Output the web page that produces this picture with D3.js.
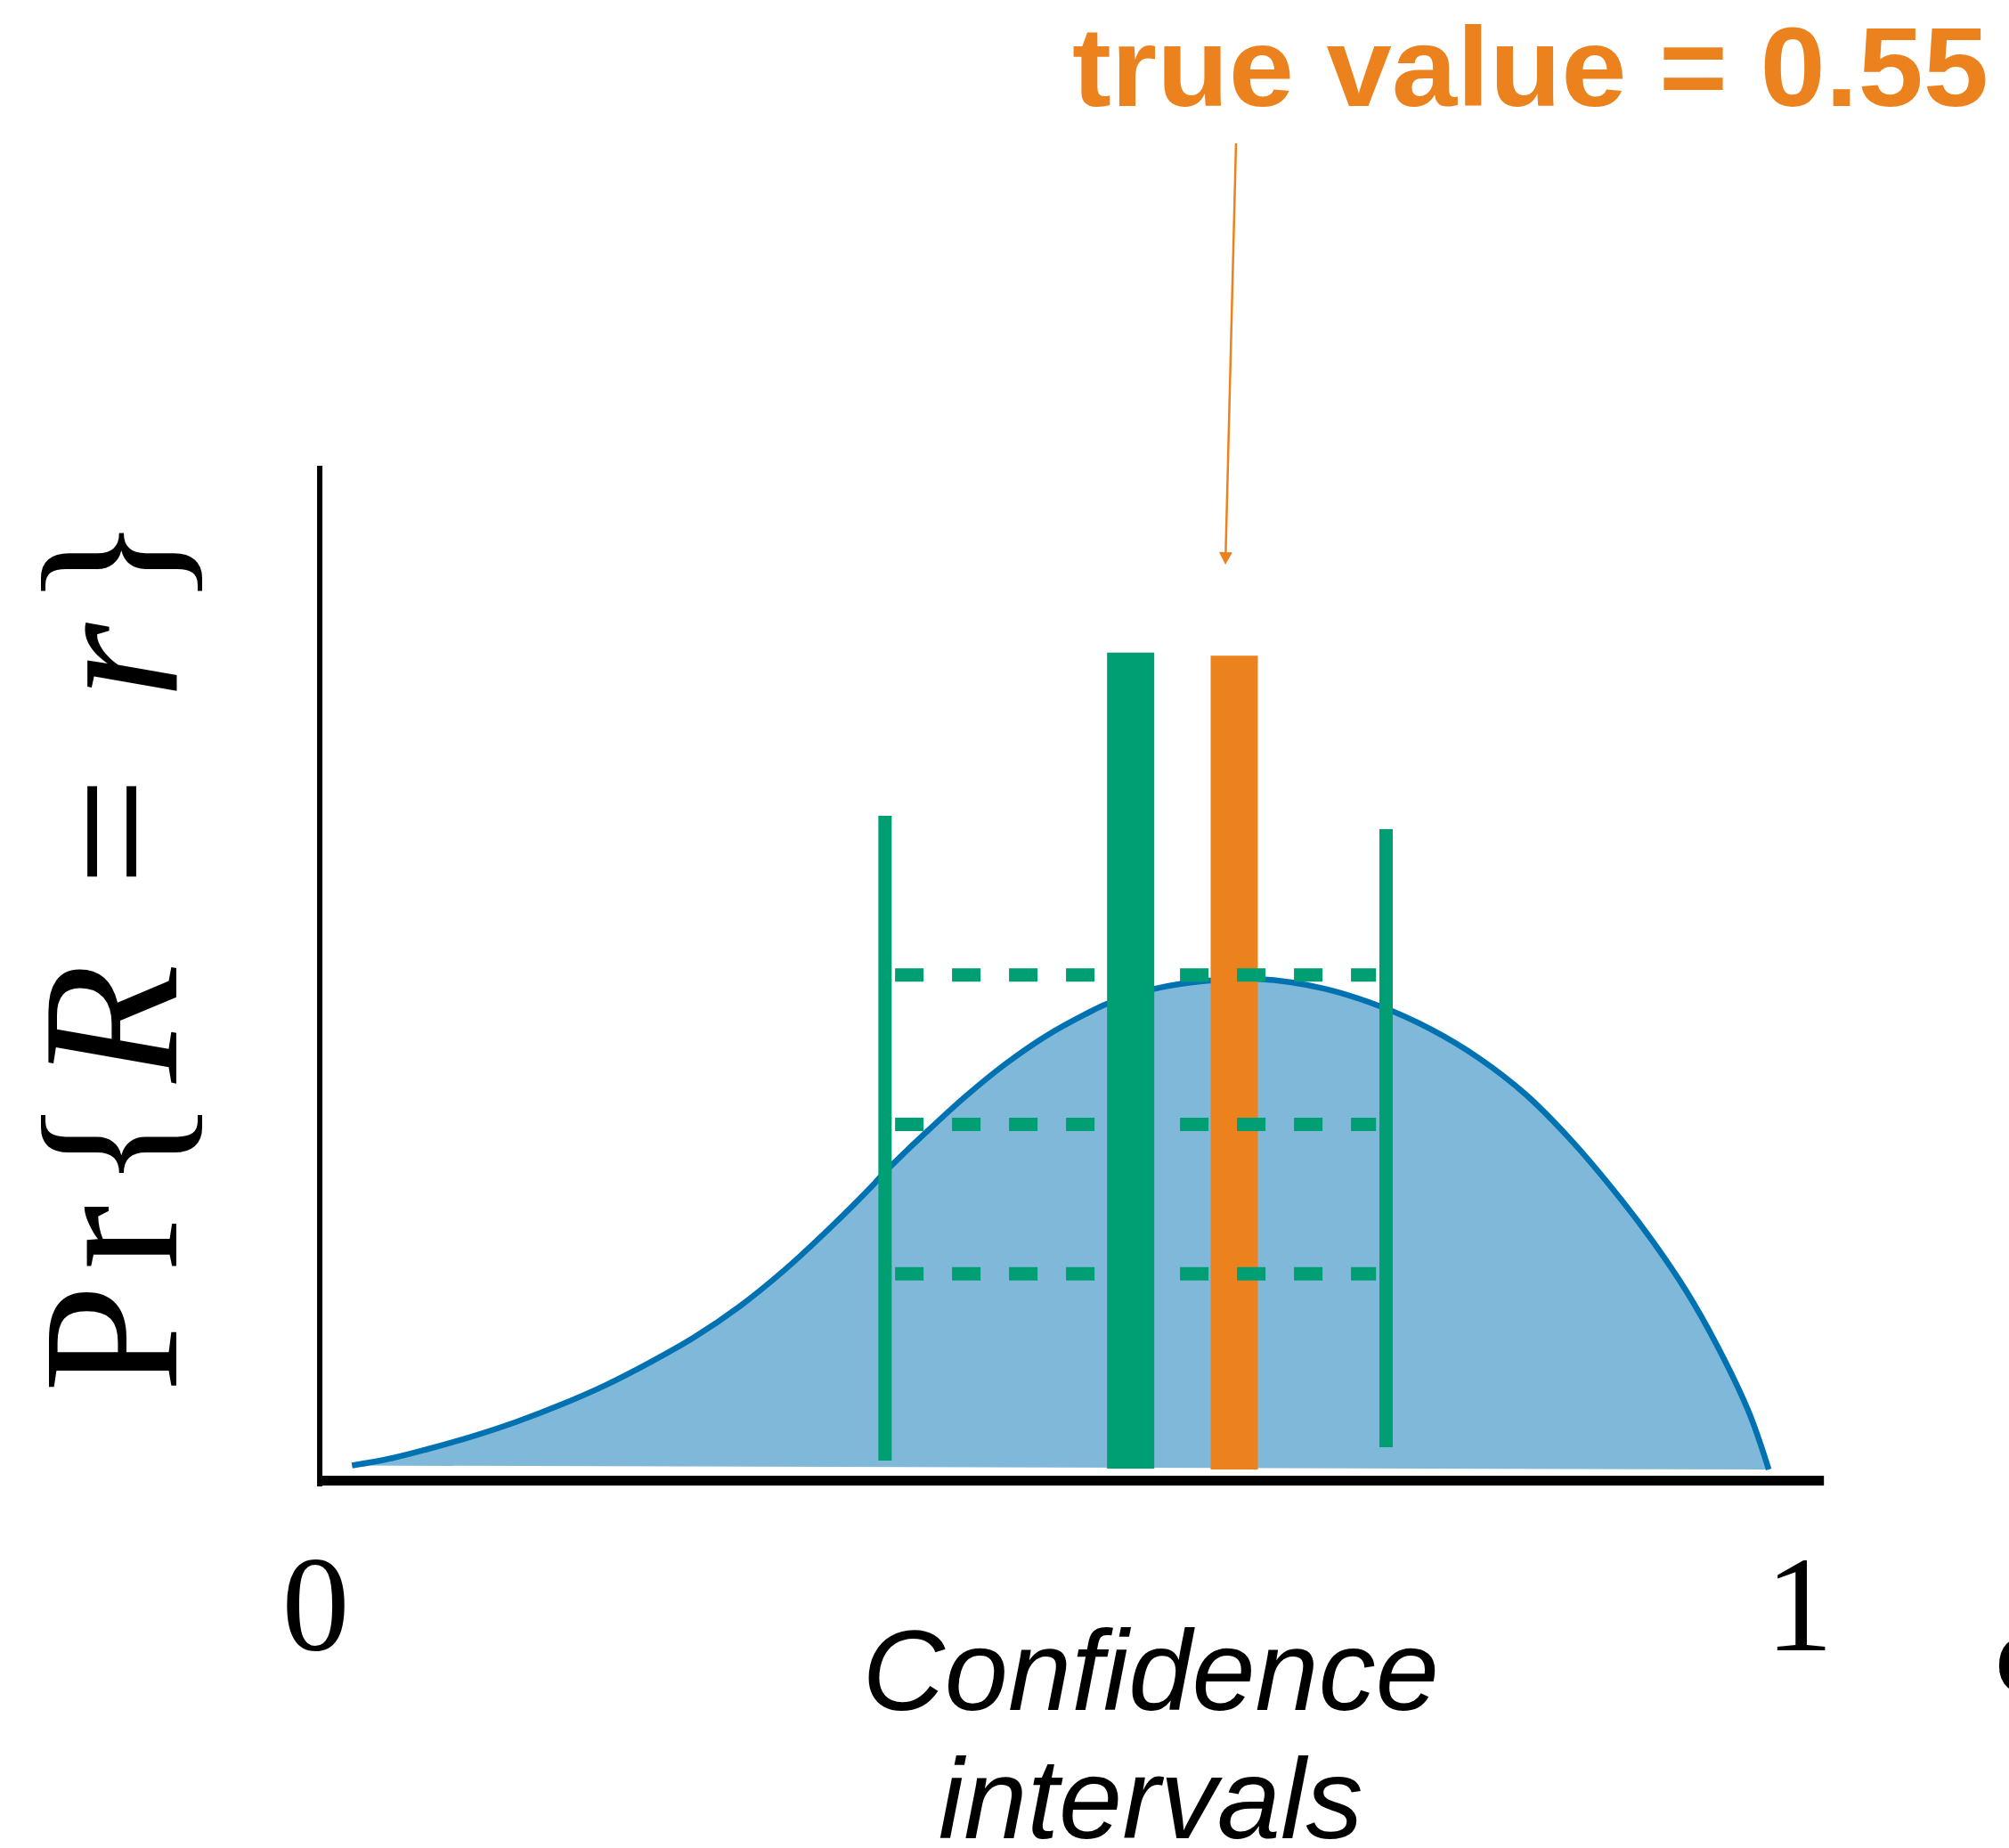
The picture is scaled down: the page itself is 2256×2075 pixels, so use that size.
<!DOCTYPE html>
<html>
<head>
<meta charset="utf-8">
<script src="https://cdn.jsdelivr.net/npm/d3@7"></script>
<style>
  html, body { margin: 0; padding: 0; background: #ffffff; }
  svg { display: block; }
</style>
</head>
<body>
<svg id="chart" width="2256" height="2075"></svg>
<script>
// ---- data -------------------------------------------------------------
// sampling distribution of the estimate R (x = r, y = Pr{R = r})
const curveX = [0.022, 0.046, 0.067, 0.094, 0.120, 0.147, 0.174, 0.200, 0.227,
  0.254, 0.280, 0.307, 0.334, 0.341, 0.365, 0.389, 0.413, 0.437, 0.461, 0.474,
  0.502, 0.532, 0.569, 0.621, 0.666, 0.707, 0.745, 0.783, 0.821, 0.859, 0.884,
  0.910, 0.935, 0.960, 0.976];
const curveY = [0.008, 0.023, 0.041, 0.067, 0.096, 0.131, 0.171, 0.216, 0.268,
  0.330, 0.401, 0.485, 0.576, 0.602, 0.680, 0.754, 0.820, 0.876, 0.921, 0.942,
  0.972, 0.988, 0.992, 0.973, 0.937, 0.890, 0.832, 0.757, 0.659, 0.544, 0.460,
  0.362, 0.250, 0.117, 0.000];

const xTicks = [0, 1];
const trueValue = 0.55;

// point estimate and true value (thick bars)
const barX = [0.488, trueValue];
const barTop = [1.652, 1.646];
const barBottom = [0.002, 0.000];
const barColor = ["#009E73", "#EC821E"];

// confidence interval ends (thin bars)
const intervalX = [0.341, 0.671];
const intervalTop = [1.322, 1.295];
const intervalBottom = [0.018, 0.045];

// nested interval levels (dashed)
const levelY = [1.0, 0.698, 0.396];
const levelSpan = [0.347, 0.663];

// annotation arrow: [x, y] start and tip
const arrowFrom = [0.5514, 2.682];
const arrowTo = [0.5447, 1.830];

// ---- scales -----------------------------------------------------------
const svg = d3.select("#chart");
const x = d3.scaleLinear().domain([0, trueValue, 1]).range([354, 1386, 2020]);
const y = d3.scaleLinear().domain([0, 2.03]).range([1650, 523]);

const blue = "#0072B2";
const green = "#009E73";
const orange = "#EC821E";

// ---- distribution -----------------------------------------------------
const pts = curveX.map((d, i) => [d, curveY[i]]);
const line = d3.line().x(d => x(d[0])).y(d => y(d[1]))
  .curve(d3.curveCatmullRom.alpha(0.5));

svg.append("path")
  .attr("d", line(pts) + "Z")
  .attr("fill", blue)
  .attr("fill-opacity", 0.5)
  .attr("stroke", "none");

svg.append("path")
  .attr("d", line(pts))
  .attr("fill", "none")
  .attr("stroke", blue)
  .attr("stroke-width", 6.5);

// ---- interval ends ----------------------------------------------------
svg.append("g").selectAll("line")
  .data(intervalX)
  .join("line")
  .attr("x1", d => x(d)).attr("x2", d => x(d))
  .attr("y1", (d, i) => y(intervalBottom[i]))
  .attr("y2", (d, i) => y(intervalTop[i]))
  .attr("stroke", green)
  .attr("stroke-width", 15);

// ---- estimate and true value bars ------------------------------------
svg.append("g").selectAll("line")
  .data(barX)
  .join("line")
  .attr("x1", d => x(d)).attr("x2", d => x(d))
  .attr("y1", (d, i) => y(barBottom[i]))
  .attr("y2", (d, i) => y(barTop[i]))
  .attr("stroke", (d, i) => barColor[i])
  .attr("stroke-width", 53);

// ---- dashed levels ----------------------------------------------------
svg.append("g").selectAll("line")
  .data(levelY)
  .join("line")
  .attr("x1", x(levelSpan[0])).attr("x2", x(levelSpan[1]))
  .attr("y1", d => y(d)).attr("y2", d => y(d))
  .attr("stroke", green)
  .attr("stroke-width", 15)
  .attr("stroke-dasharray", "32,32");

// ---- spines -----------------------------------------------------------
svg.append("line")
  .attr("x1", x(0.0027)).attr("x2", x(0.0027))
  .attr("y1", y(2.03)).attr("y2", y(-0.034))
  .attr("stroke", "#000").attr("stroke-width", 6);

svg.append("line")
  .attr("x1", x(0.002)).attr("x2", x(1.02))
  .attr("y1", y(-0.0225)).attr("y2", y(-0.0225))
  .attr("stroke", "#000").attr("stroke-width", 11);

// ---- tick labels ------------------------------------------------------
const xAxis = svg.append("g")
  .attr("transform", `translate(0,${y(-0.0225)})`)
  .call(d3.axisBottom(x).tickValues(xTicks).tickSize(0).tickPadding(83)
    .tickFormat(d3.format("d")));
xAxis.select(".domain").remove();
xAxis.selectAll("text")
  .attr("font-family", "'Liberation Serif', 'DejaVu Serif', serif")
  .attr("font-size", 152)
  .attr("fill", "#000");

// ---- axis titles ------------------------------------------------------
const xTitle = svg.append("text")
  .attr("text-anchor", "middle")
  .attr("font-family", "'Liberation Sans', Arial, sans-serif")
  .attr("font-style", "italic")
  .attr("font-size", 128)
  .attr("fill", "#000");
xTitle.append("tspan").attr("x", x(0.5)).attr("y", 1920).text("Confidence");
xTitle.append("tspan").attr("x", x(0.5)).attr("y", 2064).text("intervals");

const yTitle = svg.append("text")
  .attr("transform", "translate(198,1071) rotate(-90)")
  .attr("text-anchor", "middle")
  .attr("font-family", "'Liberation Serif', 'DejaVu Serif', serif")
  .attr("font-size", 218)
  .attr("fill", "#000")
  .attr("textLength", 985)
  .attr("lengthAdjust", "spacing");
yTitle.append("tspan").text("Pr{");
yTitle.append("tspan").attr("font-style", "italic").text("R");
yTitle.append("tspan").text(" = ");
yTitle.append("tspan").attr("font-style", "italic").text("r");
yTitle.append("tspan").text("}");

// next panel's label, clipped by the right edge
svg.append("text")
  .attr("x", 2240).attr("y", 1902)
  .attr("font-family", "'Liberation Serif', 'DejaVu Serif', serif")
  .attr("font-weight", "bold")
  .attr("font-size", 100)
  .attr("fill", "#000")
  .text("C");

// ---- true value annotation -------------------------------------------
svg.append("text")
  .attr("x", 1204).attr("y", 119)
  .attr("font-family", "'Liberation Sans', Arial, sans-serif")
  .attr("font-weight", "bold")
  .attr("font-size", 126)
  .attr("fill", orange)
  .attr("textLength", 1029)
  .attr("lengthAdjust", "spacingAndGlyphs")
  .text(`true value = ${trueValue}`);

const p0 = [x(arrowFrom[0]), y(arrowFrom[1])];
const p1 = [x(arrowTo[0]), y(arrowTo[1])];
const len = Math.hypot(p1[0] - p0[0], p1[1] - p0[1]);
const ux = (p1[0] - p0[0]) / len, uy = (p1[1] - p0[1]) / len;
const headLen = 14, headHalf = 7.5;
const base = [p1[0] - ux * headLen, p1[1] - uy * headLen];
svg.append("line")
  .attr("x1", p0[0]).attr("y1", p0[1])
  .attr("x2", base[0]).attr("y2", base[1])
  .attr("stroke", orange).attr("stroke-width", 2.5);
svg.append("path")
  .attr("d", d3.line()([
    [base[0] - uy * headHalf, base[1] + ux * headHalf],
    p1,
    [base[0] + uy * headHalf, base[1] - ux * headHalf]
  ]) + "Z")
  .attr("fill", orange);
</script>
</body>
</html>
